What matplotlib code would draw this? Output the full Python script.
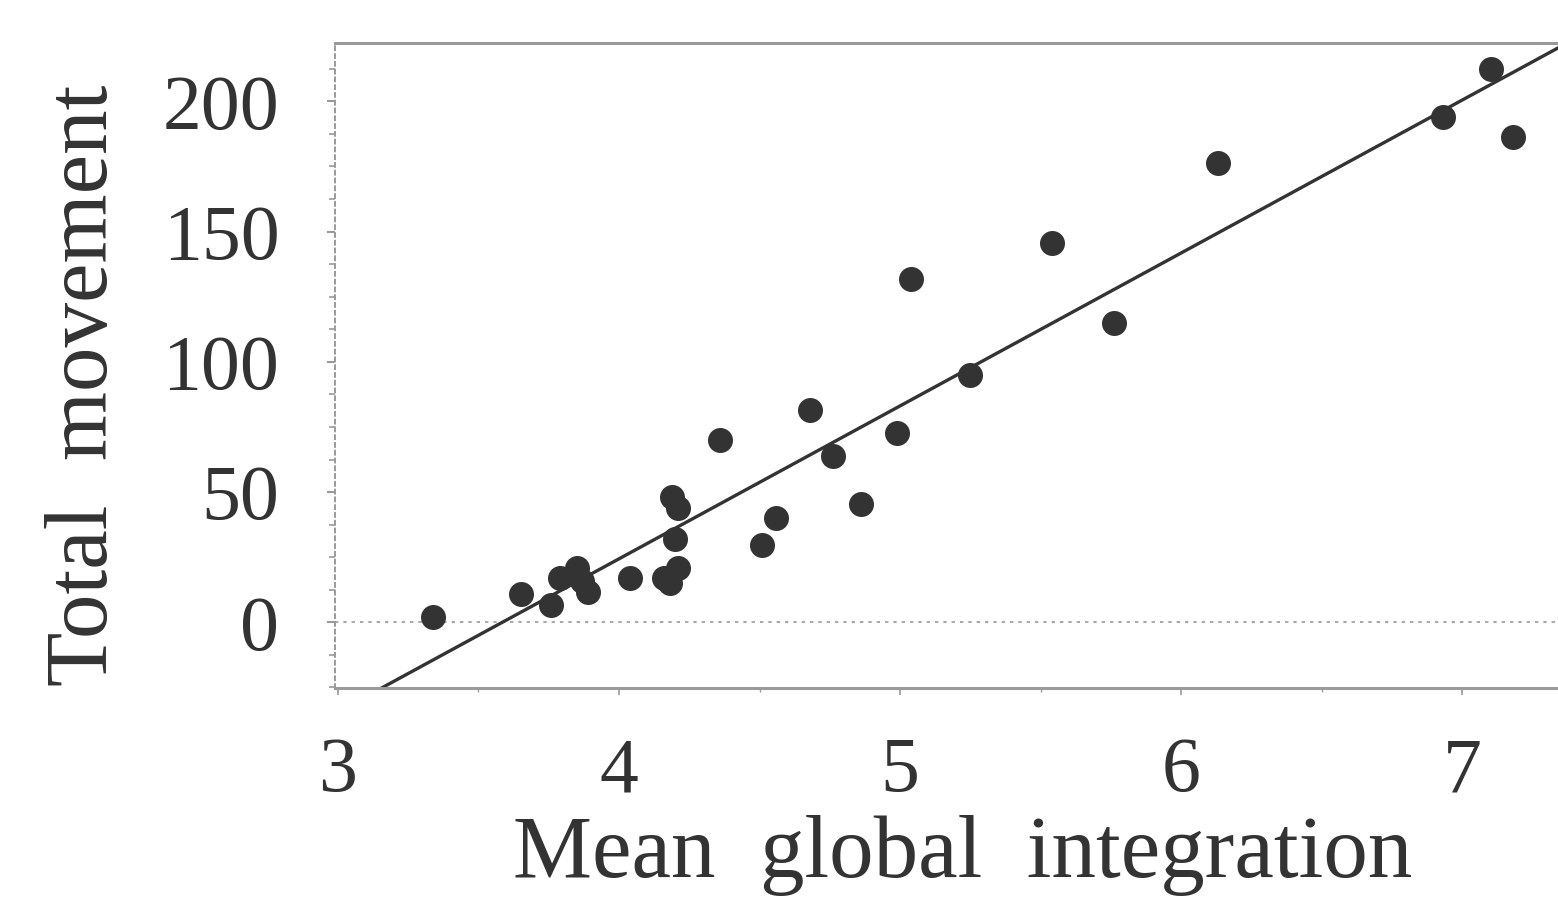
import numpy as np
import matplotlib
matplotlib.use("Agg")
import matplotlib.pyplot as plt
from matplotlib.ticker import MultipleLocator

# valores
integracion = [3.34, 3.65, 3.76, 3.79, 3.85, 3.87, 3.89, 4.04, 4.16, 4.18,
               4.21, 4.20, 4.19, 4.21, 4.36, 4.51, 4.56, 4.68, 4.76, 4.86,
               4.99, 5.04, 5.25, 5.54, 5.76, 6.13, 6.93, 7.10, 7.18]
movimiento = [2, 11, 6.5, 17, 21, 16, 11.5, 17, 17, 15,
              21, 32, 48, 44, 70, 29.5, 40, 81.5, 64, 45.5,
              72.8, 132, 95, 145.5, 115, 176.5, 194, 212.5, 186.5]
x_ticks = [3, 4, 5, 6, 7]
y_ticks = [0, 50, 100, 150, 200]

plt.rcParams["font.family"] = ["Liberation Serif", "DejaVu Serif"]
ink = "#333333"
gris = "#9a9a9a"

fig = plt.figure(figsize=(15.58, 9.02), dpi=100)
ax = fig.add_axes([0.215, 0.237, 0.785, 0.715])

x = np.array(integracion); y = np.array(movimiento)
pend, corte = np.polyfit(x, y, 1)
xl = np.array([2.99, 7.34])
ax.plot(xl, pend * xl + corte, color=ink, lw=2.4, zorder=2)
ax.axhline(0, color=gris, lw=1.2, ls=(0, (2, 3)), zorder=1)
ax.plot(x, y, "o", color=ink, ms=18, mec="none", zorder=3)

ax.set_xlim(2.99, 7.34)
ax.set_ylim(-25.3, 222.3)
ax.set_xticks(x_ticks)
ax.set_yticks(y_ticks)
ax.yaxis.set_minor_locator(MultipleLocator(12.5))
ax.xaxis.set_minor_locator(MultipleLocator(0.5))

for s in ["top", "bottom"]:
    ax.spines[s].set_color(gris); ax.spines[s].set_linewidth(2.2)
ax.spines["right"].set_visible(False)
ax.spines["left"].set_color(gris); ax.spines["left"].set_linewidth(1.4)
ax.spines["left"].set_linestyle((0, (2, 2)))

ax.tick_params(axis="y", which="major", direction="out", length=6, width=1.5,
               color=gris, pad=34, labelsize=56, labelcolor=ink)
ax.tick_params(axis="y", which="minor", direction="out", length=4, width=1.2, color=gris)
ax.tick_params(axis="x", which="major", direction="out", length=5, width=1.2,
               color=gris, pad=30, labelsize=56, labelcolor=ink)
ax.tick_params(axis="x", which="minor", length=3, width=1, color=gris)

ax.set_xlabel("Mean  global  integration", fontsize=64, color=ink, va="center")
ax.xaxis.set_label_coords(0.513, -0.259)
ax.set_ylabel("Total  movement", fontsize=64, color=ink, va="center")
ax.yaxis.set_label_coords(-0.204, 0.47)

fig.savefig("out.png", dpi=100)
